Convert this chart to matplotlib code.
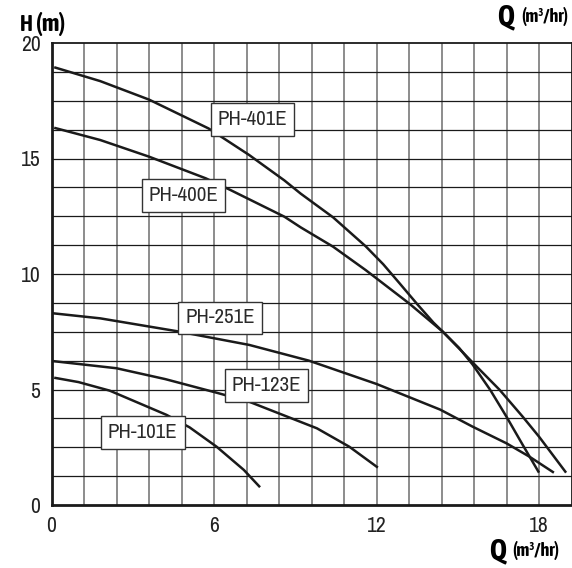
import matplotlib
matplotlib.use("Agg")
import matplotlib.pyplot as plt
import numpy as np

plt.rcParams["font.family"] = ["Archivo Narrow", "DejaVu Sans"]
BOLD_FAMILY = ["Asap Condensed", "DejaVu Sans"]

# pump curves: flow Q (m3/hr) vs head H (m)
q_401 = [0.1, 1.8, 3.6, 5.8, 7.3, 8.6, 9.2, 10.4, 11.6, 12.25, 12.85, 13.5, 14.1, 14.45,
         15.05, 15.55, 16.2, 16.8, 17.4, 18.0]
h_401 = [18.95, 18.35, 17.55, 16.3, 15.15, 14.05, 13.48, 12.45, 11.2, 10.42, 9.6, 8.7, 7.9, 7.5,
         6.8, 6.08, 4.98, 3.82, 2.6, 1.4]

q_400 = [0.1, 1.8, 3.6, 5.7, 6.6, 8.6, 9.2, 10.4, 11.6, 13.2, 14.45, 15.55, 16.55, 17.4, 18.0, 19.0]
h_400 = [16.33, 15.8, 15.08, 14.14, 13.64, 12.48, 12.02, 11.18, 10.17, 8.73, 7.5, 6.17, 4.98, 3.82, 2.96, 1.4]

q_251 = [0.05, 1.8, 4.6, 7.3, 9.5, 12.0, 14.35, 15.55, 16.8, 17.65, 18.55]
h_251 = [8.3, 8.08, 7.53, 6.93, 6.25, 5.24, 4.13, 3.39, 2.67, 2.09, 1.4]

q_123 = [0.05, 2.4, 4.2, 6.1, 7.3, 9.8, 11.0, 12.05]
h_123 = [6.23, 5.92, 5.45, 4.86, 4.47, 3.32, 2.52, 1.62]

q_101 = [0.1, 1.0, 2.15, 4.25, 5.1, 6.1, 7.1, 7.7]
h_101 = [5.51, 5.32, 4.95, 3.9, 3.36, 2.52, 1.52, 0.77]

models = ["PH-401E", "PH-400E", "PH-251E", "PH-123E", "PH-101E"]
label_q = [7.42, 4.88, 6.22, 7.94, 3.37]
label_h = [16.69, 13.4, 8.1, 5.17, 3.15]

x_ticks = [0, 6, 12, 18]
y_ticks = [0, 5, 10, 15, 20]

fig = plt.figure(figsize=(5.72, 5.68), dpi=100)
ax = fig.add_axes([51.5 / 572, 63 / 568, 520 / 572, 462 / 568])

# grid: grey verticals every 1.2, black horizontals every 1.25
for xv in np.arange(1.2, 19.2, 1.2):
    ax.axvline(xv, color="#8c8c8c", lw=1.4, zorder=1)
for yv in np.arange(1.25, 20, 1.25):
    ax.axhline(yv, color="#1a1a1a", lw=0.9, zorder=1)

for q, h in [(q_401, h_401), (q_400, h_400), (q_251, h_251), (q_123, h_123), (q_101, h_101)]:
    ax.plot(q, h, color="#1a1a1a", lw=1.8, zorder=3, solid_capstyle="butt", solid_joinstyle="round")

for name, xq, yh in zip(models, label_q, label_h):
    ax.text(xq, yh, name, ha="center", va="center", fontsize=15, color="#2a2a2a", zorder=5,
            bbox=dict(boxstyle="square,pad=0.33", fc="white", ec="#333333", lw=1.0))

ax.set_xlim(0, 19.2)
ax.set_ylim(0, 20)
ax.set_xticks(x_ticks)
ax.set_yticks(y_ticks)
ax.tick_params(length=0, labelsize=15.5, colors="#222222", pad=8)

ax.spines["left"].set_linewidth(2.0)
ax.spines["bottom"].set_linewidth(2.0)
ax.spines["top"].set_linewidth(1.3)
ax.spines["right"].set_linewidth(1.3)
for sp in ax.spines.values():
    sp.set_color("#1a1a1a")

# axis titles
fig.text(20 / 572, 1 - 25 / 568, "H", fontsize=16, fontweight="bold", family=BOLD_FAMILY,
         va="center", ha="left")
fig.text(36 / 572, 1 - 24 / 568, "(m)", fontsize=17.5, fontweight="bold", family=BOLD_FAMILY,
         va="center", ha="left")

fig.text(497 / 572, 1 - 17 / 568, "Q", fontsize=21, fontweight="bold", family=BOLD_FAMILY,
         va="center", ha="left")
fig.text(521 / 572, 1 - 16 / 568, "(m³/hr)", fontsize=13, fontweight="bold", family=BOLD_FAMILY,
         va="center", ha="left")

fig.text(489 / 572, 1 - 551 / 568, "Q", fontsize=21, fontweight="bold", family=BOLD_FAMILY,
         va="center", ha="left")
fig.text(512 / 572, 1 - 550 / 568, "(m³/hr)", fontsize=13, fontweight="bold", family=BOLD_FAMILY,
         va="center", ha="left")

fig.savefig("out.png", dpi=100)
plt.close(fig)
